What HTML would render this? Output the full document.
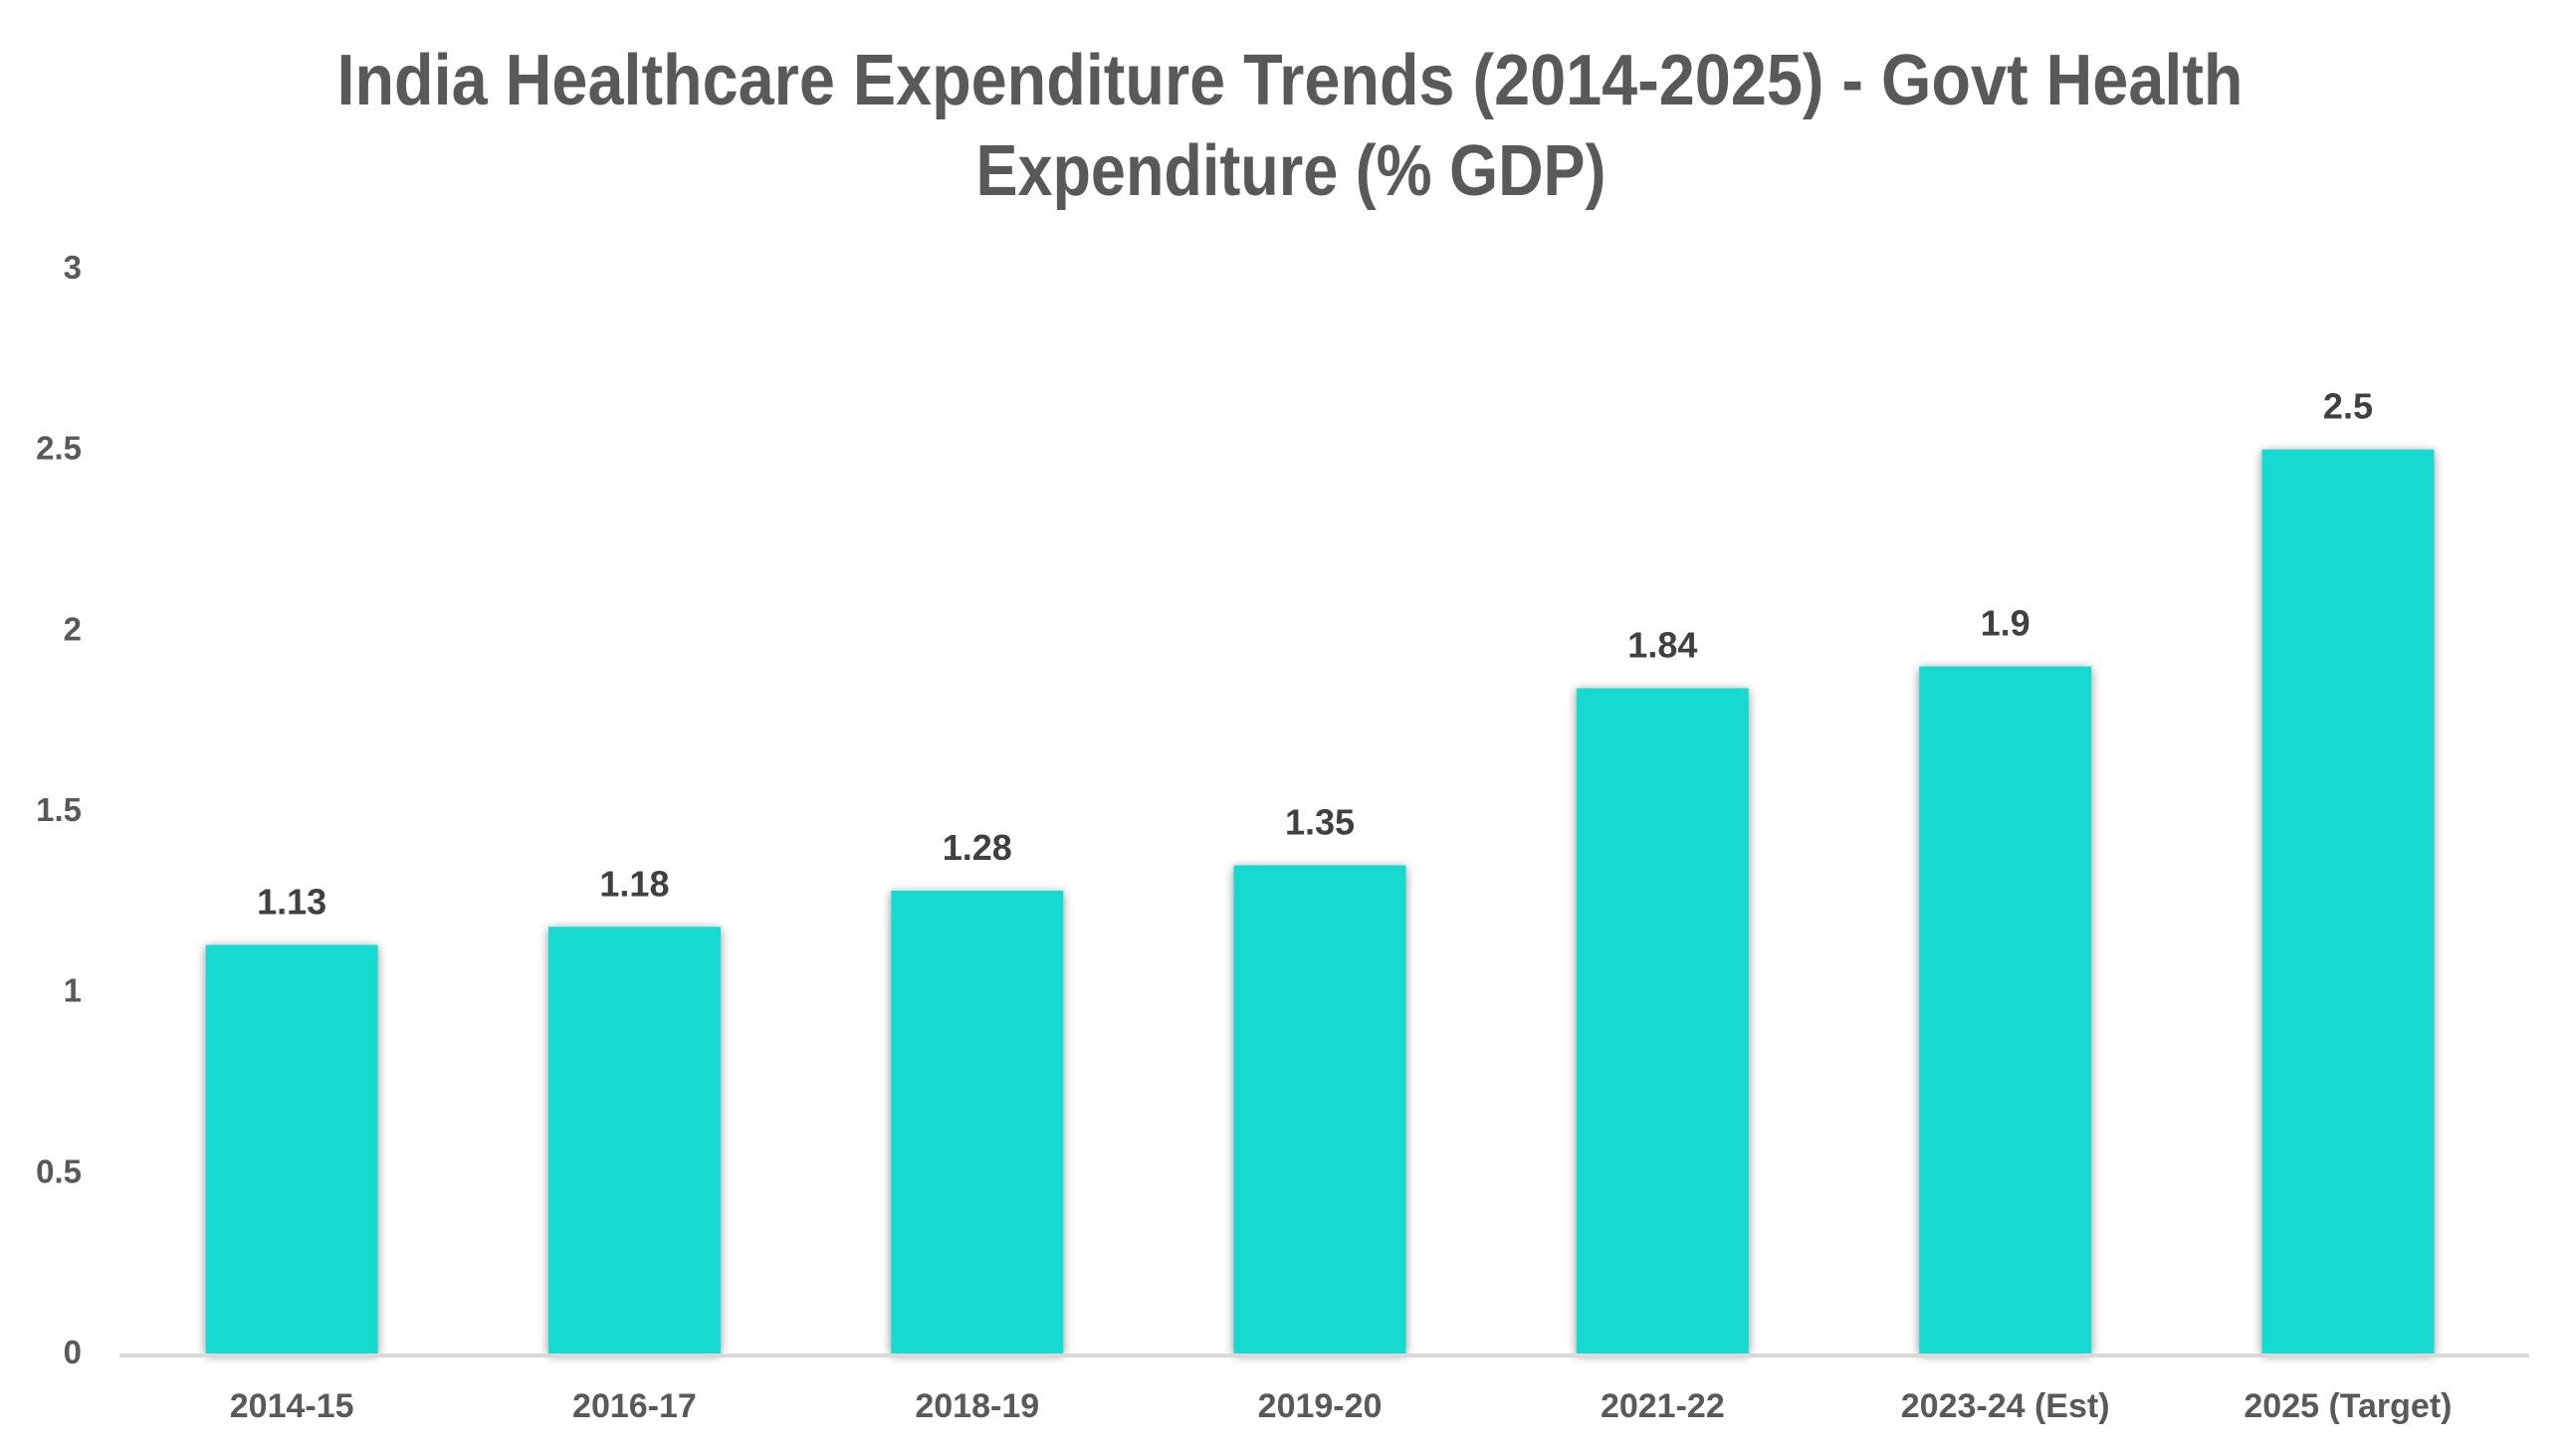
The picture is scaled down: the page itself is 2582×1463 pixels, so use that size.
<!DOCTYPE html>
<html><head><meta charset="utf-8"><style>
html,body{margin:0;padding:0;background:#fff;}
svg{display:block;font-family:"Liberation Sans",sans-serif;}
</style></head><body>
<svg id="chart" width="2582" height="1463" viewBox="0 0 2582 1463" xmlns="http://www.w3.org/2000/svg">
<defs><filter id="sh" x="-20%" y="-10%" width="140%" height="120%"><feGaussianBlur in="SourceAlpha" stdDeviation="5"/><feOffset dx="0" dy="2"/><feComponentTransfer><feFuncA type="linear" slope="0.45"/></feComponentTransfer><feMerge><feMergeNode/><feMergeNode in="SourceGraphic"/></feMerge></filter></defs>
<text x="1296" y="105" text-anchor="middle" font-size="72" font-weight="bold" fill="#595959" textLength="1915" lengthAdjust="spacingAndGlyphs">India Healthcare Expenditure Trends (2014-2025) - Govt Health</text>
<text x="1297" y="196" text-anchor="middle" font-size="72" font-weight="bold" fill="#595959" textLength="633" lengthAdjust="spacingAndGlyphs">Expenditure (% GDP)</text>
<g id="yticks"></g><g id="bars"></g><g id="xlabels"></g>
<line x1="120" y1="1362" x2="2541" y2="1362" stroke="#d9d9d9" stroke-width="4"/>
</svg>
<script>
const categories=["2014-15","2016-17","2018-19","2019-20","2021-22","2023-24 (Est)","2025 (Target)"];
const values=[1.13,1.18,1.28,1.35,1.84,1.9,2.5];
const valueLabels=["1.13","1.18","1.28","1.35","1.84","1.9","2.5"];
const yTicks=[0,0.5,1,1.5,2,2.5,3];
const yTickLabels=["0","0.5","1","1.5","2","2.5","3"];
const NS="http://www.w3.org/2000/svg";
const y0=1360,yTop=270,yMax=3,left=121,band=344.3,barW=173;
function yScale(v){return y0-(v/yMax)*(y0-yTop);}
function xCenter(i){return left+band*(i+0.5);}
const gT=document.getElementById('yticks');
yTicks.forEach((t,i)=>{const el=document.createElementNS(NS,'text');


el.setAttribute('x',82);el.setAttribute('y',yScale(t)+10);el.setAttribute('text-anchor','end');
el.setAttribute('font-size','33');el.setAttribute('font-weight','bold');el.setAttribute('fill','#595959');
el.textContent=yTickLabels[i];gT.appendChild(el);});
const gB=document.getElementById('bars'),gX=document.getElementById('xlabels');
values.forEach((v,i)=>{const cx=xCenter(i);
const r=document.createElementNS(NS,'rect');


r.setAttribute('x',cx-barW/2);r.setAttribute('y',yScale(v));r.setAttribute('width',barW);r.setAttribute('height',y0-yScale(v));
r.setAttribute('fill','#17D9D0');r.setAttribute('filter','url(#sh)');gB.appendChild(r);
const l=document.createElementNS(NS,'text');


l.setAttribute('x',cx);l.setAttribute('y',yScale(v)-31);l.setAttribute('text-anchor','middle');
l.setAttribute('font-size','36');l.setAttribute('font-weight','bold');l.setAttribute('fill','#404040');
l.textContent=valueLabels[i];gB.appendChild(l);
const c=document.createElementNS(NS,'text');


c.setAttribute('x',cx);c.setAttribute('y',1424);c.setAttribute('text-anchor','middle');
c.setAttribute('font-size','34');c.setAttribute('font-weight','bold');c.setAttribute('fill','#595959');
c.textContent=categories[i];gX.appendChild(c);});
</script>
</body></html>
